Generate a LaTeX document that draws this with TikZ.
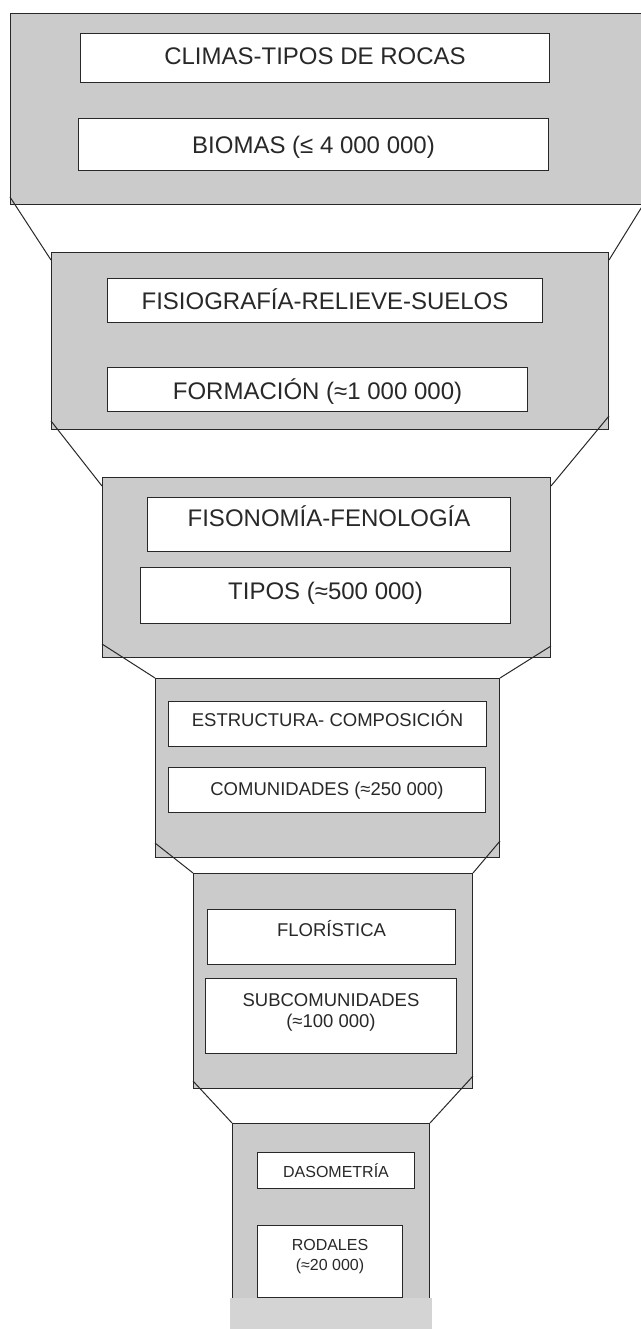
\documentclass[tikz,border=0pt]{standalone}
\usepackage{fontspec}
\setmainfont{Liberation Sans}
\definecolor{shade}{RGB}{203,203,203}
\definecolor{strip}{RGB}{212,212,212}
\definecolor{ink}{RGB}{40,40,40}
\begin{document}
\begin{tikzpicture}[x=1pt,y=-1pt,
  lvl/.style={draw=ink, line width=1pt, fill=shade, rectangle, inner sep=0pt, anchor=north west},
  ibox/.style={draw=ink, line width=1pt, fill=white, rectangle, inner sep=0pt, anchor=north west},
  conn/.style={draw=ink, line width=1pt},
  tbig/.style={font=\fontsize{24}{28}\selectfont, inner sep=0pt, anchor=base, text=ink},
  tmid/.style={font=\fontsize{18.5}{22}\selectfont, inner sep=0pt, anchor=base, text=ink},
  tmidtwo/.style={font=\fontsize{18.5}{21.5}\selectfont, inner sep=0pt, anchor=north, align=center, text=ink},
  tsmall/.style={font=\fontsize{16}{20}\selectfont, inner sep=0pt, anchor=north, align=center, text=ink}]
\useasboundingbox (0,0) rectangle (640,1329);
\fill[white] (0,0) rectangle (640,1329);

% levels
\node[lvl, minimum width=632pt, minimum height=191pt] (L1) at (10,13) {};
\node[lvl, minimum width=557pt, minimum height=177pt] (L2) at (51,252) {};
\node[lvl, minimum width=448pt, minimum height=180pt] (L3) at (102,477) {};
\node[lvl, minimum width=344pt, minimum height=179pt] (L4) at (155,678) {};
\node[lvl, minimum width=279pt, minimum height=215pt] (L5) at (193,873) {};
\node[lvl, minimum width=197pt, minimum height=217pt] (L6) at (232,1123) {};
\fill[strip] (230,1298) rectangle (432,1330);

% connectors
\draw[conn] ([yshift=8pt]L1.south west) -- ([yshift=-8pt]L2.north west);
\draw[conn] (L1.south east) -- ([yshift=-8pt]L2.north east);
\draw[conn] ([yshift=9pt]L2.south west) -- ([yshift=-9pt]L3.north west);
\draw[conn] ([yshift=14pt]L2.south east) -- ([yshift=-9pt]L3.north east);
\draw[conn] ([yshift=14pt]L3.south west) -- (L4.north west);
\draw[conn] ([yshift=12pt]L3.south east) -- (L4.north east);
\draw[conn] ([yshift=15pt]L4.south west) -- (L5.north west);
\draw[conn] ([yshift=17pt]L4.south east) -- (L5.north east);
\draw[conn] ([yshift=8pt]L5.south west) -- (L6.north west);
\draw[conn] ([yshift=13pt]L5.south east) -- (L6.north east);

% inner boxes
\node[ibox, minimum width=469pt, minimum height=49pt] (A) at (80,33) {};
\node[ibox, minimum width=470pt, minimum height=52pt] (B) at (78,118) {};
\node[ibox, minimum width=435pt, minimum height=44pt] (C) at (107,278) {};
\node[ibox, minimum width=420pt, minimum height=44pt] (D) at (107,367) {};
\node[ibox, minimum width=363pt, minimum height=54pt] (E) at (147,497) {};
\node[ibox, minimum width=370pt, minimum height=56pt] (F) at (140,567) {};
\node[ibox, minimum width=318pt, minimum height=45pt] (G) at (168,701) {};
\node[ibox, minimum width=317pt, minimum height=45pt] (H) at (168,767) {};
\node[ibox, minimum width=248pt, minimum height=55pt] (I) at (207,909) {};
\node[ibox, minimum width=251pt, minimum height=75pt] (J) at (205,978) {};
\node[ibox, minimum width=157pt, minimum height=36pt] (K) at (257,1152) {};
\node[ibox, minimum width=145pt, minimum height=72pt] (L) at (257,1225) {};

% texts
\node[tbig] (tA) at (A.center |- 0,65) {CLIMAS-TIPOS DE ROCAS};
\node[tbig] (tB) at (B.center |- 0,153.5) {BIOMAS (≤ 4 000 000)};
\node[tbig] (tC) at (C.center |- 0,309) {FISIOGRAFÍA-RELIEVE-SUELOS};
\node[tbig] (tD) at (D.center |- 0,399.5) {FORMACIÓN (≈1 000 000)};
\node[tbig] (tE) at (E.center |- 0,526) {FISONOMÍA-FENOLOGÍA};
\node[tbig] (tF) at (F.center |- 0,599) {TIPOS (≈500 000)};
\node[tmid] (tG) at (G.center |- 0,726) {ESTRUCTURA- COMPOSICIÓN};
\node[tmid] (tH) at (H.center |- 0,795) {COMUNIDADES (≈250 000)};
\node[tmid] (tI) at (I.center |- 0,936) {FLORÍSTICA};
\node[tmidtwo] (tJ) at (J.center |- 0,993) {SUBCOMUNIDADES\\(≈100 000)};
\node[tsmall, anchor=base] (tK) at (K.center |- 0,1177) {DASOMETRÍA};
\node[tsmall] (tL) at (L.center |- 0,1239.5) {RODALES\\(≈20 000)};
\end{tikzpicture}
\end{document}
